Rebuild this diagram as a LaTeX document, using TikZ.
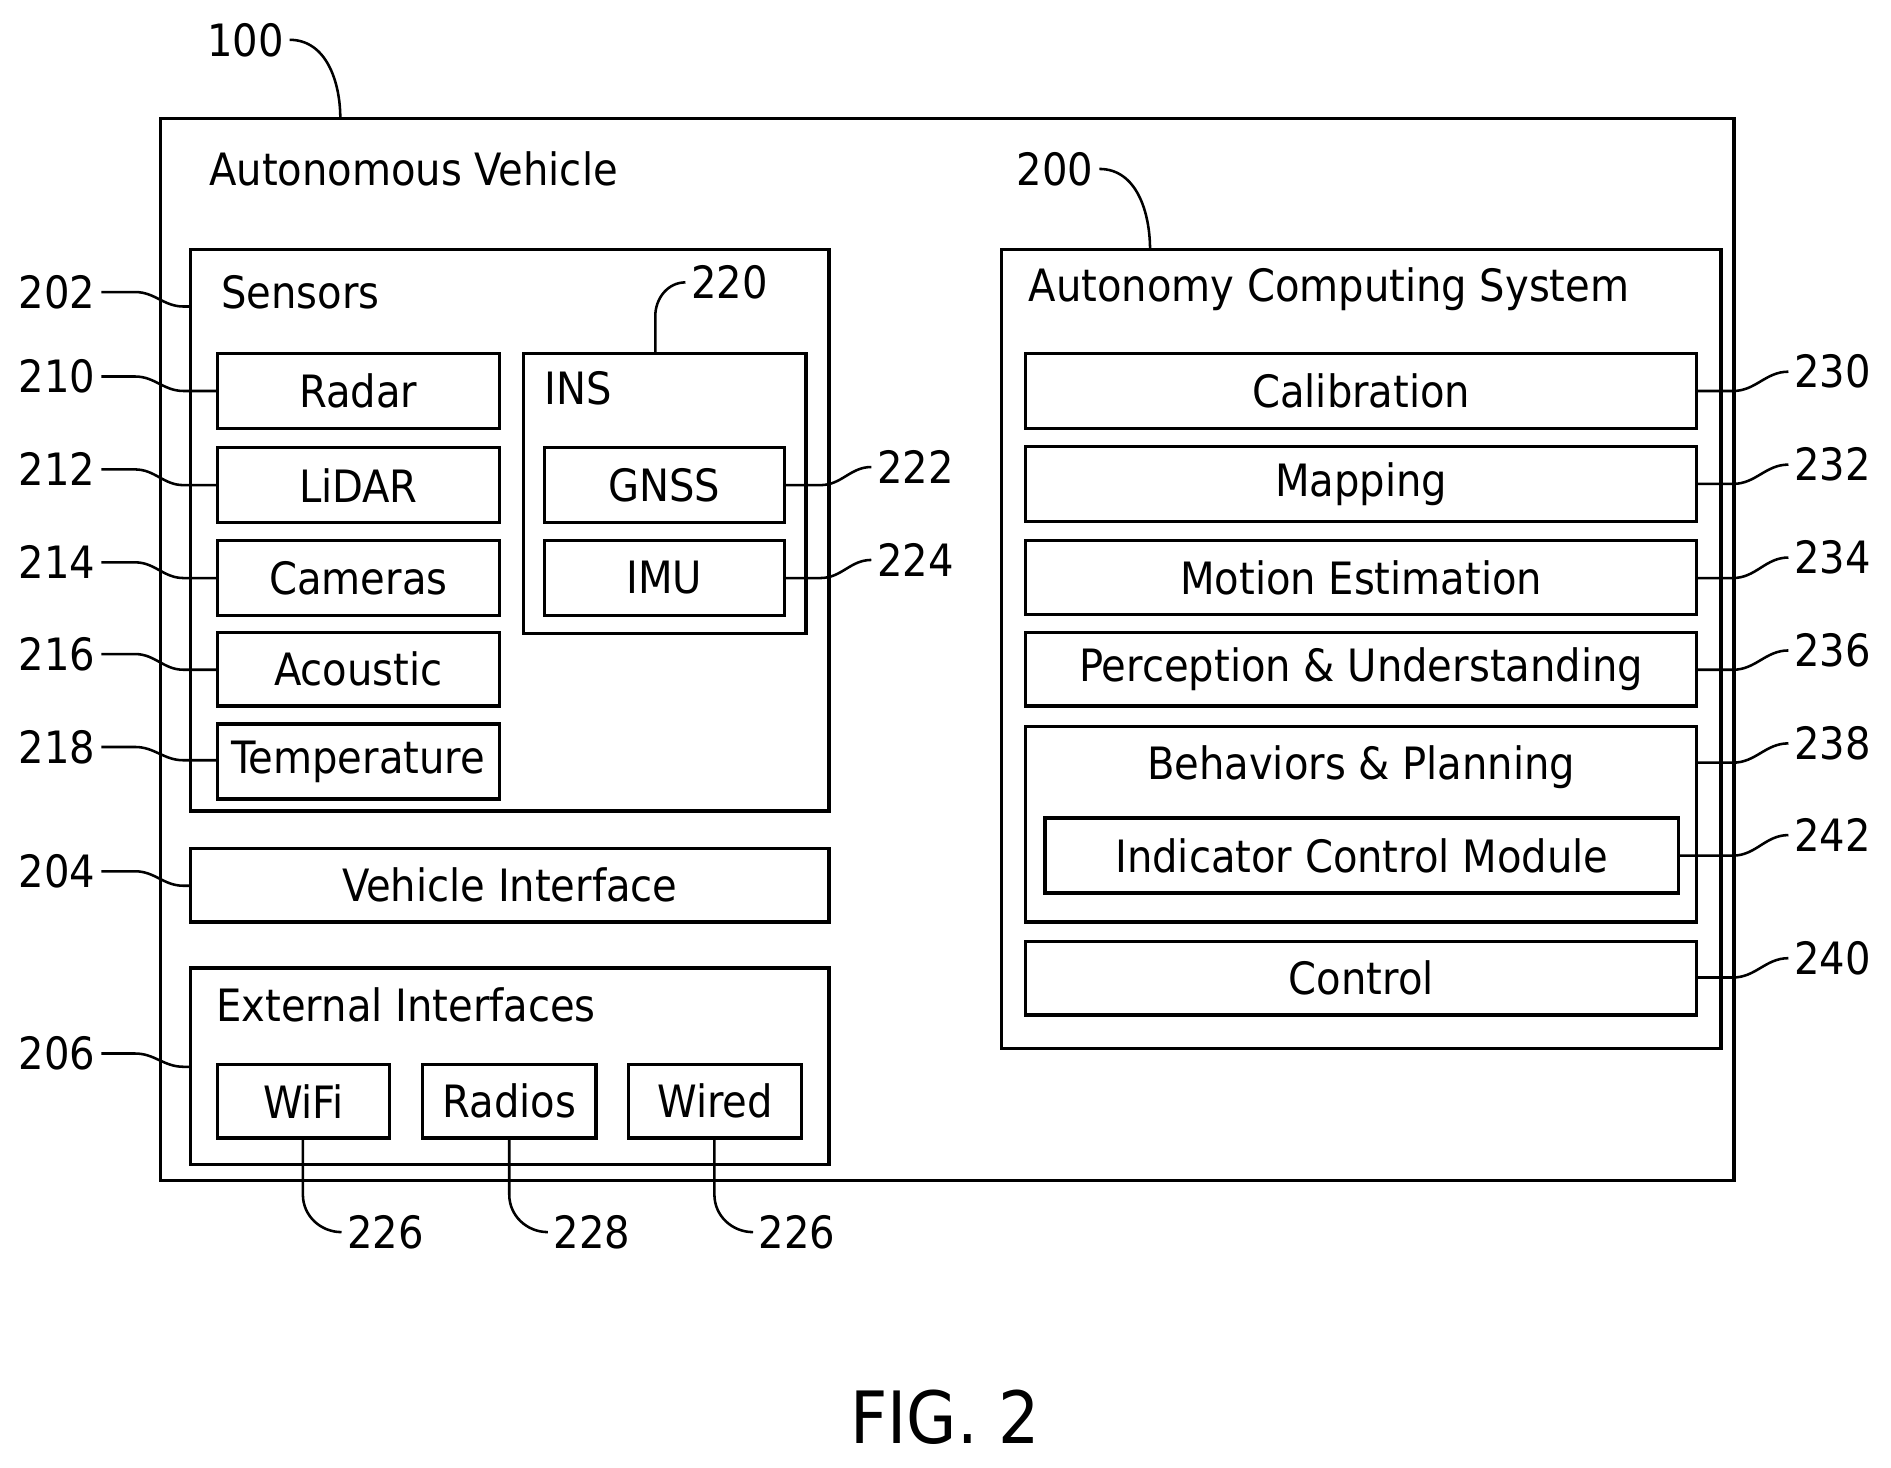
\documentclass[tikz,border=0pt]{standalone}
\usepackage{fontspec}
\setmainfont{DejaVu Sans Condensed}
\usetikzlibrary{positioning}

\begin{document}
\begin{tikzpicture}[x=0.01cm,y=-0.01cm,line width=0.8pt,font=\fontsize{10.5}{12}\selectfont,
  lbl/.style={inner sep=1pt},
  ttl/.style={anchor=west,inner sep=0pt}]
\useasboundingbox (0,0) rectangle (1567,1216);

% outer frame
\draw (133,98) rectangle (1437,978);
\node[ttl] (avtitle) at (172,140) {Autonomous Vehicle};
\node[lbl,anchor=east] (l100) at (240,33) {100};
\draw[line width=0.6pt] (l100.east) to[out=0,in=90] (282,98);

% sensors
\draw (158,207) rectangle (687,672);
\node[ttl] (senstitle) at (182,242) {Sensors};
\draw (180,293) rectangle node (radar) {Radar} (414,355);
\draw (180,371) rectangle node (lidar) {LiDAR} (414,433);
\draw (180,448) rectangle node (cam) {Cameras} (414,510);
\draw (180,524) rectangle node (acou) {Acoustic} (414,585);
\draw (180,600) rectangle node (temp) {Temperature} (414,662);
\draw (434,293) rectangle (668,525);
\node[ttl] (institle) at (450,322) {INS};
\draw (451,371) rectangle node (gnss) {GNSS} (650,433);
\draw (451,448) rectangle node (imu) {IMU} (650,510);

% interfaces
\draw (158,703) rectangle node (vif) {Vehicle Interface} (687,764);
\draw (158,802) rectangle (687,965);
\node[ttl] (exttitle) at (178,833) {External Interfaces};
\draw (180,882) rectangle node (wifi) {WiFi} (323,943);
\draw (350,882) rectangle node (radios) {Radios} (494,943);
\draw (521,882) rectangle node (wired) {Wired} (664,943);

% autonomy computing system
\draw (830,207) rectangle (1426,869);
\node[ttl] (acstitle) at (851,240) {Autonomy Computing System};
\node[lbl,anchor=east] (l200) at (911,140) {200};
\draw[line width=0.6pt] (l200.east) to[out=0,in=90] (953,207);
\draw (850,293) rectangle node (calib) {Calibration} (1406,355);
\draw (850,370) rectangle node (mapp) {Mapping} (1406,432);
\draw (850,448) rectangle node (motion) {Motion Estimation} (1406,509);
\draw (850,524) rectangle node (percep) {Perception \& Understanding} (1406,585);
\draw (850,602) rectangle (1406,764);
\node (behav) at (1128,636) {Behaviors \& Planning};
\draw (866,678) rectangle node (indic) {Indicator Control Module} (1391,740);
\draw (850,780) rectangle node (ctrl) {Control} (1406,841);

% left reference numerals
\foreach \num/\ly/\ty/\tx in {202/242/254/158, 210/312/324/180, 212/389/402/180,
    214/466/479/180, 216/542/555/180, 218/619/630/180, 204/722/734/158, 206/873/884/158}{
  \node[lbl,anchor=east] (l\num) at (84,\ly) {\num};
  \coordinate (t\num) at (\tx,\ty);
  \draw[line width=0.6pt] (l\num.east) -- ++(28,0) to[out=0,in=180] ++(40,\ty-\ly) -- (t\num);
}

% right reference numerals
\foreach \num/\ly/\ty/\tx in {230/308/324/1406, 232/385/401/1406, 234/462/479/1406,
    236/539/555/1406, 238/616/632/1406, 242/692/709/1391, 240/794/810/1406}{
  \node[lbl,anchor=west] (l\num) at (1482,\ly) {\num};
  \coordinate (t\num) at (\tx,\ty);
  \draw[line width=0.6pt] (t\num) -- (1436,\ty) to[out=0,in=180] (l\num.west);
}

% INS numerals
\node[lbl,anchor=west] (l222) at (722,387) {222};
\draw[line width=0.6pt] (650,402) -- (680,402) to[out=0,in=180] (l222.west);
\node[lbl,anchor=west] (l224) at (722,464) {224};
\draw[line width=0.6pt] (650,479) -- (680,479) to[out=0,in=180] (l224.west);
\node[lbl,anchor=west] (l220) at (568,234) {220};
\draw[line width=0.6pt] (543,293) -- (543,262) to[out=90,in=180] (l220.west);

% bottom numerals
\node[lbl,anchor=west] (l226a) at (283,1021) {226};
\draw[line width=0.6pt] (251,943) -- (251,990) to[out=-90,in=180] (l226a.west);
\node[lbl,anchor=west] (l228) at (454,1021) {228};
\draw[line width=0.6pt] (422,943) -- (422,990) to[out=-90,in=180] (l228.west);
\node[lbl,anchor=west] (l226b) at (624,1021) {226};
\draw[line width=0.6pt] (592,943) -- (592,990) to[out=-90,in=180] (l226b.west);

\node[font=\fontsize{17}{20}\selectfont] (fig) at (783,1174) {FIG. 2};
\end{tikzpicture}
\end{document}
